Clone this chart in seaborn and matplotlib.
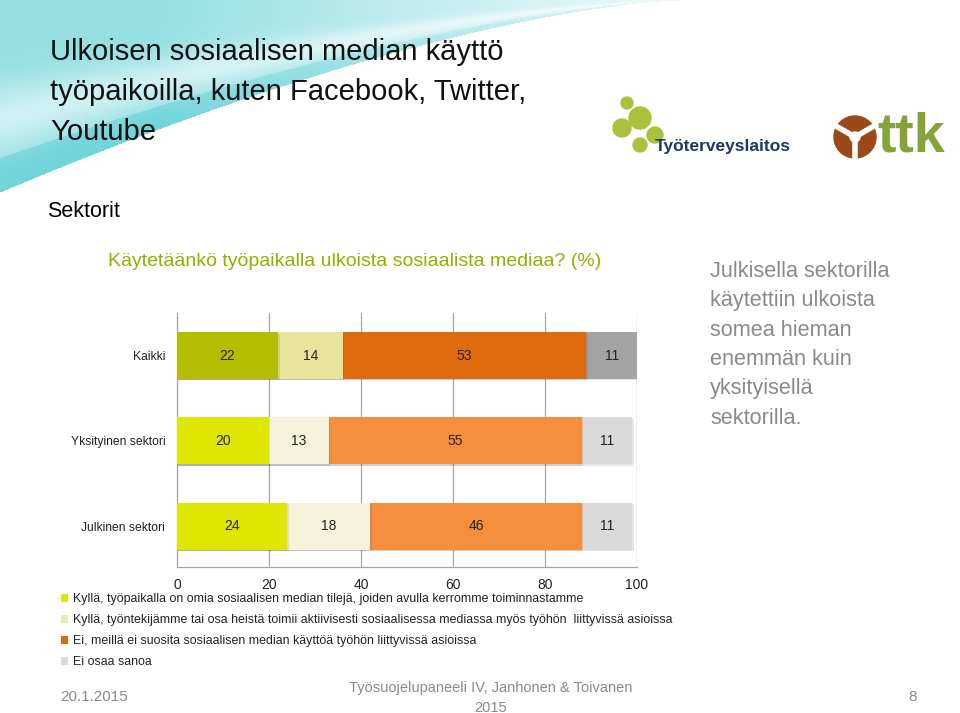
#!/usr/bin/python3

# Stacked horizontal bars: use of external social media at workplaces, by sector (%)

import numpy as np
import pandas as pd
import matplotlib.pyplot as plt
import matplotlib.patheffects as pe
from matplotlib.patches import Patch, Circle
import seaborn as sns


# data
sektorit = ['Kaikki', 'Yksityinen sektori', 'Julkinen sektori']
omat_tilit = [22, 20, 24]
tyontekijat = [14, 13, 18]
ei_suosita = [53, 55, 46]
ei_osaa = [11, 11, 11]

vastaukset = [
    'Kyllä, työpaikalla on omia sosiaalisen median tilejä, joiden avulla kerromme toiminnastamme',
    'Kyllä, työntekijämme tai osa heistä toimii aktiivisesti sosiaalisessa mediassa myös työhön  liittyvissä asioissa',
    'Ei, meillä ei suosita sosiaalisen median käyttöä työhön liittyvissä asioissa',
    'Ei osaa sanoa',
]
x_ticks = [0, 20, 40, 60, 80, 100]

# colours per segment: (Kaikki, sectors)
seg_colors = [
    ('#b5bd00', '#dfe600'),
    ('#e8e49c', '#f6f3dc'),
    ('#e06b0f', '#f68f3d'),
    ('#a3a3a3', '#d9d9d9'),
]
legend_colors = ['#dfe600', '#ece9b0', '#e06b0f', '#d9d9d9']


def main():
    sns.set_style('white')
    plt.rcParams['font.family'] = ['Liberation Sans', 'DejaVu Sans']

    fig = plt.figure(figsize=(9.6, 7.13), dpi=100)

    # background swoosh (decoration)
    bg = fig.add_axes([0, 0, 1, 1], zorder=-10)
    W, H = 960, 713
    xx, yy = np.meshgrid(np.arange(W), np.arange(H))
    edge = 192 * np.clip(1 - xx / 680, 0, None) ** 1.5
    t = np.where(edge > 0, yy / np.maximum(edge, 1e-6), 2)
    # light streak running diagonally through the middle
    streak = np.exp(-((t - 0.62) / 0.18) ** 2)
    alpha = 0.72 - 0.4 * streak
    alpha = np.where((t > 0.82) & (t < 1), alpha + 0.25, alpha)
    alpha = np.where(t < 1, alpha, 0)
    alpha *= np.clip(1.25 - xx / 620, 0, 1)
    img = np.ones((H, W, 4))
    img[..., 0] = 0.42
    img[..., 1] = 0.83
    img[..., 2] = 0.85
    img[..., 3] = np.clip(alpha, 0, 1)
    bg.imshow(img, extent=(0, W, H, 0), aspect='auto')
    bg.set_xlim(0, W)
    bg.set_ylim(H, 0)
    bg.axis('off')

    # title texts
    fig.text(50 / W, 1 - 92 / H, 'Ulkoisen sosiaalisen median käyttö\ntyöpaikoilla, kuten Facebook, Twitter,\nYoutube',
             fontsize=21, color='#111111', va='center', ha='left', linespacing=1.55)
    fig.text(47 / W, 1 - 211 / H, 'Sektorit', fontsize=15.5, color='black', va='center')
    fig.text(108 / W, 1 - 262 / H, 'Käytetäänkö työpaikalla ulkoista sosiaalista mediaa? (%)',
             fontsize=14, color='#8db300', va='center')
    fig.text(710 / W, 1 - 261 / H,
             'Julkisella sektorilla\nkäytettiin ulkoista\nsomea hieman\nenemmän kuin\nyksityisellä\nsektorilla.',
             fontsize=15.6, color='#8a8a8a', va='top', linespacing=1.52)

    # logos (rough stand-ins)
    for cx, cy, r in [(627, 103, 6), (640, 118, 11), (622, 128, 9), (655, 135, 8), (640, 145, 7)]:
        bg.add_patch(Circle((cx, cy), r, color='#a9c23a', zorder=2))
    bg.text(655, 146, 'Työterveyslaitos', fontsize=12.5, fontweight='bold', color='#1f3765', va='center')
    bg.add_patch(Circle((855, 137), 21, color='#9a4a18', zorder=2))
    for ang in [150, 30, 270]:
        a = np.deg2rad(ang)
        bg.plot([855, 855 + 21 * np.cos(a)], [137, 137 - 21 * np.sin(a)], color='white', lw=4, zorder=3)
    bg.add_patch(Circle((855, 137), 5, color='white', zorder=3))
    bg.text(877, 138, 'ttk', fontsize=40, fontweight='bold', color='#86a33a', va='center')

    # footer
    fig.text(60 / W, 1 - 697 / H, '20.1.2015', fontsize=11, color='#8a8a8a', va='center')
    fig.text(491 / W, 1 - 698 / H, 'Työsuojelupaneeli IV, Janhonen & Toivanen\n2015', fontsize=10.5,
             color='#8a8a8a', va='center', ha='center', linespacing=1.5)
    fig.text(917 / W, 1 - 697 / H, '8', fontsize=11, color='#8a8a8a', va='center', ha='right')

    # chart
    ax = fig.add_axes([177 / W, 1 - 567 / H, (637 - 177) / W, (567 - 313) / H])
    segs = [omat_tilit, tyontekijat, ei_suosita, ei_osaa]
    cums = np.cumsum(np.array(segs), axis=0)
    shadow = [pe.SimplePatchShadow(offset=(1, -1), alpha=0.12), pe.Normal()]

    for i in range(len(segs) - 1, -1, -1):
        df = pd.DataFrame({'sektori': sektorit, 'arvo': cums[i]})
        pal = [seg_colors[i][0], seg_colors[i][1], seg_colors[i][1]]
        sns.barplot(data=df, x='arvo', y='sektori', hue='sektori', palette=pal, orient='h',
                    width=0.55, saturation=1, legend=False, ax=ax, linewidth=0, zorder=3)
    for p in ax.patches:
        p.set_path_effects(shadow)

    for i, vals in enumerate(segs):
        for j, v in enumerate(vals):
            ax.text(cums[i][j] - v / 2, j, str(v), ha='center', va='center', fontsize=10, color='#222222', zorder=5)

    ax.set_xlim(0, 100)
    ax.set_ylim(2.48, -0.5)
    ax.set_xticks(x_ticks)
    ax.set_xticklabels([str(v) for v in x_ticks])
    ax.xaxis.grid(True, color='#a6a6a6', linewidth=0.9)
    ax.set_axisbelow(True)
    ax.tick_params(axis='x', length=0, pad=8, labelsize=10, colors='#222222')
    ax.tick_params(axis='y', length=0, pad=8.5, labelsize=8.7, colors='#222222')
    ax.set_xlabel('')
    ax.set_ylabel('')
    for s in ['top', 'right']:
        ax.spines[s].set_visible(False)
    for s in ['left', 'bottom']:
        ax.spines[s].set_color('#a6a6a6')
        ax.spines[s].set_linewidth(0.9)

    handles = [Patch(facecolor=c, edgecolor='none') for c in legend_colors]
    fig.legend(handles, vastaukset, loc='upper left', bbox_to_anchor=(61 / W, 1 - 593 / H),
               frameon=False, fontsize=8.9, handlelength=0.6, handleheight=0.6, handletextpad=0.4,
               labelspacing=0.73, borderpad=0, borderaxespad=0, labelcolor='#222222')

    plt.savefig('out.png', dpi=100)


if __name__ == "__main__":
    main()
